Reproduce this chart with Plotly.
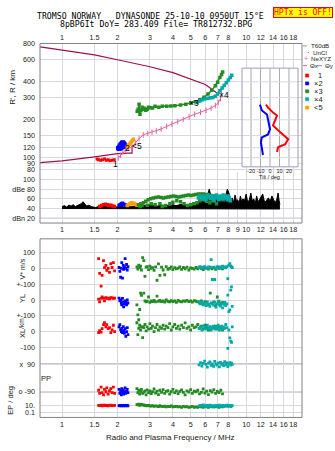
import numpy as np
import plotly.graph_objects as go

# ======================= DATA =======================
ticks_top = [1, 1.5, 2, 3, 4, 5, 6, 7, 8, 10, 12, 14, 16, 18]
ticks_amp = [1, 1.5, 2, 3, 4, 5, 6, 7, 8, 9, 10, 12, 14, 16, 18]
ticks_bot = [1, 1.5, 2, 3, 4, 5, 6, 7, 8, 10, 12, 14, 16, 18]
height_ticks = [80, 90, 100, 120, 150, 200, 300, 400, 600, 800]
amp_ticks = [20, 40, 60, 80, 100]
amp_tick_text = ["dBn 20", "40", "60", "dBe 80", "100"]
tilt_ticks = [-20, -10, 0, 10, 20]

# --- panel 1: profile curves (frequency MHz, height km)
prof_top_f = [0.76, 1.0, 1.5, 2.0, 3.0, 4.0, 5.15, 6.0, 7.0]
prof_top_h = [751, 711, 650, 594, 523, 470, 414, 378, 321]
prof_low_f = [0.76, 1.0, 1.5, 2.0, 2.28, 2.40, 2.40]
prof_low_h = [91, 94, 101, 107, 108, 108, 124]
nexyz_f = [2.02, 2.08, 2.14, 2.22, 2.30, 2.40, 2.50, 2.62, 2.76, 2.92, 3.08, 3.25, 3.45,
           3.70, 3.95, 4.25, 4.55, 4.90, 5.25, 5.65, 6.05, 6.45, 6.80, 7.05, 7.25, 7.35]
nexyz_h = [99, 104, 110, 115, 118, 121, 130, 141, 151, 155, 158, 162, 168,
           176, 184, 192, 200, 210, 220, 228, 236, 246, 258, 272, 292, 315]

# --- panel 1: echo virtual heights per mode
e1_f = [1.55, 1.58, 1.62, 1.66, 1.70, 1.74, 1.78, 1.82, 1.87, 1.92]
e1_h = [97, 96, 95, 96, 97, 95, 96, 94, 95, 96]
e2_f = [2.02, 2.04, 2.06, 2.08, 2.10, 2.12, 2.14, 2.16, 2.18, 2.20, 2.05, 2.09, 2.13, 2.17, 2.22]
e2_h = [118, 120, 123, 126, 128, 130, 131, 129, 127, 124, 117, 119, 121, 123, 122]
e5_f = [2.26, 2.29, 2.32, 2.35, 2.38, 2.41, 2.44]
e5_h = [121, 124, 127, 130, 133, 136, 139]
e3_f = [2.56, 2.59, 2.62, 2.65, 2.68, 2.72, 2.75, 2.80, 2.85, 2.90, 2.95, 3.0, 3.1, 3.2, 3.35, 3.5,
        3.7, 3.9, 4.1, 4.4, 4.7, 5.0, 5.3, 5.6, 5.9, 6.2, 6.5, 6.8, 7.0, 7.2, 7.35, 7.45]
e3_h = [232, 241, 264, 220, 235, 250, 241, 245, 236, 241, 250, 248, 246, 254, 250, 254,
        254, 255, 257, 260, 264, 270, 276, 287, 300, 318, 340, 370, 395, 430, 455, 475]
e4_f = [5.4, 5.6, 5.8, 6.0, 6.2, 6.4, 6.6, 6.8, 7.0, 7.2, 7.4, 7.6, 7.8, 8.0, 8.2, 8.35]
e4_h = [272, 280, 287, 292, 295, 297, 299, 305, 318, 338, 355, 372, 390, 410, 430, 448]

# --- inset: tilt (deg) vs height (km)
tiltx_deg = [-4.3, -2.1, 3.2, 7.4, 5.3, 3.2, 8.5, 13.8, 19.1, 16.0, 8.5, 7.4]
tiltx_h = [264, 250, 228, 216, 198, 180, 165, 151, 140, 128, 121, 111]
tilty_deg = [-10.6, -8.5, -3.2, -2.1, 0.0, -2.1, -8.5, -9.6, -8.5, -7.4]
tilty_h = [264, 237, 220, 198, 168, 153, 145, 133, 111, 105]

# --- panel 2: amplitudes (dB)
noise_f = [1.00, 1.03, 1.06, 1.09, 1.12, 1.15, 1.18, 1.21, 1.24, 1.27,
           1.30, 1.33, 1.36, 1.40, 1.44, 1.48, 1.52, 1.57, 1.62, 1.67,
           1.72, 1.78, 1.84, 1.90, 1.96, 2.02, 2.09, 2.16, 2.23, 2.30,
           2.38, 2.46, 2.55, 2.64, 2.74, 2.84, 2.95, 3.06, 3.18, 3.30,
           3.43, 3.56, 3.70, 3.85, 4.00, 4.15, 4.30, 4.50, 4.70, 4.90,
           5.10, 5.30, 5.50, 5.70, 5.90, 6.10, 6.30, 6.50, 6.70, 6.90,
           7.10, 7.30, 7.50, 7.70, 7.90,
           8.10, 8.25, 8.40, 8.55, 8.70, 8.85, 9.00, 9.15, 9.30, 9.45,
           9.60, 9.80, 10.0, 10.2, 10.4, 10.6, 10.8, 11.0, 11.2, 11.4,
           11.6, 11.8, 12.0, 12.3, 12.6, 12.9, 13.2, 13.5, 13.8, 14.1,
           14.4, 14.7, 14.9, 15.1, 15.25]
noise_db = [44, 46, 43, 47, 45, 48, 44, 46, 47, 50,
            54, 48, 45, 47, 44, 43, 42, 44, 43, 45,
            44, 43, 42, 44, 43, 44, 45, 43, 44, 46,
            44, 45, 46, 45, 47, 46, 48, 46, 47, 45,
            48, 46, 47, 45, 48, 46, 47, 49, 46, 48,
            50, 47, 52, 55, 58, 62, 80, 60, 58, 62,
            56, 60, 58, 64, 80,
            70, 55, 62, 52, 68, 56, 58, 50, 66, 54,
            60, 56, 70, 52, 58, 72, 55, 60, 50, 66,
            54, 58, 62, 70, 52, 58, 62, 55, 66, 58,
            52, 60, 72, 56, 48]
noise_floor_f = [1.00, 15.25]
noise_floor_db = [40, 39]
a1_f = [1.60, 1.64, 1.68, 1.72, 1.76, 1.80, 1.84, 1.88, 1.92]
a1_db = [44, 46, 48, 49, 48, 46, 47, 45, 44]
a2_f = [2.04, 2.07, 2.10, 2.13, 2.16, 2.19, 2.22]
a2_db = [46, 48, 50, 51, 49, 48, 46]
a5_f = [2.26, 2.30, 2.34, 2.38, 2.42, 2.46, 2.50, 2.55]
a5_db = [46, 48, 50, 52, 50, 51, 49, 47]
a3_f = [2.60, 2.68, 2.77, 2.85, 2.94, 3.03, 3.13, 3.23, 3.34, 3.45, 3.55, 3.66, 3.78, 3.90, 4.03,
        4.16, 4.29, 4.42, 4.56, 4.71, 4.86, 5.01, 5.17, 5.33, 5.50, 5.68, 5.86, 6.05, 6.24, 6.44,
        6.64, 6.85, 7.07, 7.30, 7.53]
a3_db = [48, 50, 52, 55, 58, 60, 62, 63, 64, 63, 62, 63, 64, 65, 66,
         65, 64, 65, 66, 67, 68, 67, 68, 69, 70, 70, 70, 69, 68, 67,
         66, 64, 62, 60, 58]
a3b_f = [2.65, 2.72, 2.90, 3.05, 3.20, 3.40, 3.50, 3.65, 3.85, 4.00, 4.20, 4.40, 4.60, 4.80, 5.00,
         5.20, 5.40, 5.60, 5.90, 6.10, 6.35, 6.60, 6.90]
a3b_db = [44, 46, 47, 50, 48, 50, 44, 46, 50, 53, 56, 54, 50, 46, 48,
          50, 52, 56, 58, 55, 52, 56, 50]
a4_f = [5.50, 5.60, 5.70, 5.80, 5.90, 6.00, 6.10, 6.20, 6.30, 6.40, 6.50, 6.60, 6.70, 6.80,
        6.90, 7.00, 7.10, 7.20, 7.30, 7.40, 7.50, 7.60, 7.70, 7.80, 7.90, 8.00, 8.10, 8.20]
a4_db = [62, 66, 64, 60, 66, 58, 62, 68, 64, 60, 66, 62, 56, 64,
         68, 62, 58, 66, 64, 60, 68, 62, 66, 64, 58, 66, 62, 56]

# --- panel 3: V* (m/s), YL, XL (m/s), PP (deg), EP (deg) per echo
m1_f = [1.58, 1.60, 1.63, 1.65, 1.68, 1.70, 1.73, 1.75, 1.78, 1.81, 1.84, 1.87, 1.90, 1.93]
m1_vs = [62, -31, -112, -44, 50, 5, 19, -12, 0, -25, 31, 6, 37, -15]
m1_yl = [6, -12, 10, 19, 12, -6, 15, 10, 12, 8, 15, 14, 10, 12]
m1_xl = [-6, 6, -4, 19, 44, 56, 30, 44, 19, 25, -6, 10, 40, 0]
m1_pp = [-80, -100, -60, -95, -110, -75, -90, -65, -105, -85, -70, -95, -60, -100]
m1_ep = [12, 10, 14, 9, 11, 13, 10, 12, 9, 11, 13, 10, 12, 11]

m2_f = [2.04, 2.06, 2.08, 2.10, 2.11, 2.13, 2.15, 2.16, 2.18, 2.20, 2.22, 2.24, 2.26, 2.28]
m2_vs = [6, -19, -56, 0, 37, -62, 19, -6, 10, 62, 0, 25, -10, 12]
m2_yl = [12, -6, 0, -19, -31, 10, -12, -44, -25, -6, -15, -31, 0, -20]
m2_xl = [30, 44, 12, 0, 20, -6, 31, 6, -12, 19, -31, 0, 25, -19]
m2_pp = [-75, -100, -85, -110, -70, -95, -80, -105, -90, -65, -100, -85, -75, -95]
m2_ep = [10, 9, 11, 10, 8, 12, 10, 9, 11, 10, 9, 10, 11, 8]

m3_f = [2.55, 2.58, 2.61, 2.64, 2.67, 2.70, 2.74, 2.78, 2.82, 2.86,
        2.90, 2.95, 3.00, 3.05, 3.10, 3.16, 3.22, 3.28, 3.34, 3.40,
        3.47, 3.54, 3.61, 3.68, 3.76, 3.84, 3.92, 4.00, 4.09, 4.18,
        4.27, 4.36, 4.46, 4.56, 4.66, 4.77, 4.88, 4.99, 5.10, 5.22,
        5.34, 5.46, 5.58, 5.71, 5.84, 5.97, 6.10, 6.24, 6.38, 6.52,
        6.67, 6.82, 6.97, 7.12, 7.28, 7.44]
m3_vs = [10, -5, 20, 5, 15, -10, 69, 50, -50, 8,
         12, -8, 15, 0, 5, -12, 10, -75, 29, -44,
         8, -10, -40, 12, -6, 0, 10, -8, 5, -3,
         2, 10, -6, 6, -2, 8, -10, 4, 0, -4,
         6, -2, 10, 0, -8, 4, 2, -5, 8, -3,
         5, -6, 3, 0, 7, -2]
m3_yl = [-31, -94, -125, -60, 44, 30, -170, 44, -5, -12,
         -8, 19, -15, -5, -10, -2, -12, 25, -8, -3,
         -10, -5, -14, 0, -8, -12, -4, -10, -6, -15,
         -3, -9, -12, -5, -8, -2, -10, -6, -14, -4,
         -8, -12, -20, -5, -25, -10, -15, -30, 44, -22,
         -12, -35, 19, -8, -25, -15]
m3_xl = [56, -19, 20, 40, 10, 30, -38, 25, 45, 5,
         30, 15, 50, 20, 35, 0, 25, 45, 10, 30,
         20, 40, 15, 35, 25, 50, 10, 30, 45, 20,
         35, 15, 40, 25, 55, 20, 30, 10, 40, 25,
         30, 45, 20, 35, 15, 40, 25, 10, 30, 20,
         25, 35, 15, 30, 20, 10]
m3_pp = [-70, -95, -80, -105, -88, -75, -100, -92, -85, -110,
         -78, -96, -84, -102, -90, -72, -98, -86, -108, -80,
         -94, -76, -100, -88, -82, -106, -90, -74, -96, -84,
         -102, -88, -78, -94, -110, -84, -92, -76, -100, -86,
         -90, -80, -104, -94, -72, -98, -86, -108, -82, -92,
         -76, -100, -88, -96, -80, -104]
m3_ep = [20, 15, 25, 12, 18, 22, 14, 16, 10, 12,
         9, 11, 8, 7, 10, 6, 8, 7, 5, 9,
         6, 5, 7, 4, 6, 5, 8, 4, 5, 6,
         4, 5, 3, 6, 4, 5, 3, 4, 6, 3,
         4, 3, 5, 4, 3, 6, 4, 3, 5, 4,
         5, 4, 6, 3, 5, 4]

m4_f = [5.55, 5.65, 5.75, 5.85, 5.95, 6.05, 6.15, 6.25, 6.35, 6.45,
        6.55, 6.65, 6.75, 6.85, 6.95, 7.05, 7.15, 7.25, 7.35, 7.45,
        7.55, 7.65, 7.75, 7.85, 7.95, 8.05, 8.15, 8.25, 8.32, 8.40]
m4_vs = [5, 10, 2, 8, 12, 4, 0, 10, 6, 56,
         -70, 8, -70, 2, 12, 5, 10, 0, 8, 14,
         6, 10, 4, 12, -65, 20, 31, 15, 10, 6]
m4_yl = [-10, -25, -15, -30, -20, -35, -12, -28, -40, -18,
         -22, -32, -15, -45, -25, -10, -30, -38, -20, -50,
         -28, -15, -35, -25, 31, -73, -62, 62, 83, -40]
m4_xl = [20, 30, 10, 35, 25, 15, 40, 20, 30, 10,
         25, 35, 15, 30, 20, 40, 10, 25, 35, 15,
         30, 20, 45, 25, -106, 10, -40, -60, -69, 30]
m4_pp = [85, 100, 78, 95, 110, 88, 70, 96, 104, 82,
         92, 76, 108, 90, 84, 98, 72, 102, 88, 94,
         80, 106, 86, 98, 74, 92, 100, 84, 96, 88]
m4_ep = [8, 12, 6, 15, 9, 5, 11, 7, 14, 6,
         10, 4, 8, 12, 5, 9, 13, 6, 8, 11,
         5, 10, 7, 14, 6, 9, 12, 5, 8, 10]

# ======================= STYLE / GEOMETRY =======================
W, H = 335, 451
GRID = "#d8d8e2"
FRAME = "#808080"
FONT = "Liberation Sans, Arial, sans-serif"
MONO = "DejaVu Sans Mono, monospace"
TXT = "#202020"
C_RED, C_BLUE, C_GREEN = "#ff0000", "#0000ff", "#228b22"
C_CYAN, C_ORANGE = "#00a8a8", "#ffa000"
C_MAROON, C_PINK = "#a0104a", "#e8609a"


def fx(p):
    return p / W


def fy(p):
    return 1 - p / H


FREQ_RANGE = [np.log10(0.759), np.log10(20.1)]
H_RANGE = [np.log10(77), np.log10(800)]
INSET_H = [84.6, 514]
INSET_T = [-29.5, 29.5]

# panel 3 composite axis: strips with offsets
VS_OFF, YL_OFF, XL_OFF = 0.0, -200.0, -400.0
PP_OFF, PP_S = -693.75, 87.5 / 90.0
EP_OFF, EP_S = -868.75, 21.875
P3_RANGE = [-943.75, 187.5]


def pp_y(v):
    return PP_OFF + np.asarray(v, float) * PP_S


def ep_y(v):
    return EP_OFF + (np.log10(np.asarray(v, float)) - 1) * EP_S


fig = go.Figure()


def sc(x, y, xa, ya, color, size=3, mode="markers", **kw):
    d = dict(x=x, y=y, xaxis=xa, yaxis=ya, mode=mode, showlegend=False, hoverinfo="skip")
    if "markers" in mode:
        d["marker"] = kw.pop("marker", dict(symbol="square", size=size, color=color, line=dict(width=0)))
    d.update(kw)
    fig.add_trace(go.Scatter(**d))


# ---------- panel 1 ----------
sc(prof_top_f, prof_top_h, "x", "y", C_MAROON, mode="lines", line=dict(color=C_MAROON, width=1.2))
sc(prof_low_f, prof_low_h, "x", "y", C_MAROON, mode="lines", line=dict(color=C_MAROON, width=1.2))
sc(nexyz_f, nexyz_h, "x", "y", C_PINK, mode="lines+markers", line=dict(color=C_PINK, width=1),
   marker=dict(symbol="line-ns-open", size=4, color=C_PINK, line=dict(width=1, color=C_PINK)))
sc(e1_f, e1_h, "x", "y", C_RED, size=3)
sc(e3_f, e3_h, "x", "y", C_GREEN, size=3.5, mode="lines+markers", line=dict(color=C_GREEN, width=1.5))
sc(e4_f, e4_h, "x", "y", C_CYAN, size=3.5, mode="lines+markers", line=dict(color=C_CYAN, width=2))
sc(e2_f, e2_h, "x", "y", C_BLUE, size=4.5)
sc(e5_f, e5_h, "x", "y", C_ORANGE, size=3.5, mode="lines+markers", line=dict(color=C_ORANGE, width=2))

# ---------- panel 2 ----------
sc(noise_floor_f, noise_floor_db, "x2", "y2", "black", mode="lines", line=dict(color="black", width=1))
sc(noise_f, noise_db, "x2", "y2", "black", mode="lines", line=dict(color="black", width=1),
   fill="tonexty", fillcolor="black")
sc(a1_f, a1_db, "x2", "y2", C_RED, size=3.5)
sc(a2_f, a2_db, "x2", "y2", C_BLUE, size=3.5)
sc(a5_f, a5_db, "x2", "y2", C_ORANGE, size=3.5)
sc(a3_f, a3_db, "x2", "y2", C_GREEN, size=3.5)
sc(a3b_f, a3b_db, "x2", "y2", C_GREEN, size=3.5)
sc(a4_f, a4_db, "x2", "y2", C_CYAN, size=3.5)

# ---------- panel 3 ----------
modes = [
    (C_RED, m1_f, m1_vs, m1_yl, m1_xl, m1_pp, m1_ep),
    (C_BLUE, m2_f, m2_vs, m2_yl, m2_xl, m2_pp, m2_ep),
    (C_GREEN, m3_f, m3_vs, m3_yl, m3_xl, m3_pp, m3_ep),
    (C_CYAN, m4_f, m4_vs, m4_yl, m4_xl, m4_pp, m4_ep),
]
for col, f, vs, yl, xl, pp, ep in modes:
    f = np.asarray(f, float)
    ys = np.concatenate([VS_OFF + np.asarray(vs, float), YL_OFF + np.asarray(yl, float),
                         XL_OFF + np.asarray(xl, float), pp_y(pp), ep_y(ep)])
    xs = np.concatenate([f] * 5)
    sc(xs, ys, "x3", "y3", col, size=2.8)

# ---------- inset (tilt) ----------
sc([INSET_T[0], INSET_T[1], INSET_T[1], INSET_T[0], INSET_T[0]],
   [INSET_H[0], INSET_H[0], INSET_H[1], INSET_H[1], INSET_H[0]], "x4", "y4", "white",
   mode="lines", line=dict(width=0, color="white"), fill="toself", fillcolor="white")
gx, gy = [], []
for t in tilt_ticks:
    gx += [t, t, None]
    gy += [INSET_H[0], INSET_H[1], None]
sc(gx, gy, "x4", "y4", "#a0a0a8", mode="lines", line=dict(color="#a8a8b0", width=1))
hx, hy = [], []
for hh in [100, 120, 150, 200, 300, 400]:
    hx += [INSET_T[0], INSET_T[1], None]
    hy += [hh, hh, None]
sc(hx, hy, "x4", "y4", GRID, mode="lines", line=dict(color=GRID, width=1))
sc(tiltx_deg, tiltx_h, "x4", "y4", C_RED, mode="lines", line=dict(color=C_RED, width=2))
sc(tilty_deg, tilty_h, "x4", "y4", C_BLUE, mode="lines", line=dict(color=C_BLUE, width=2))

# ======================= AXES =======================
tickfont = dict(family=FONT, size=7.2, color=TXT)


def xax(ticks, anchor, side):
    return dict(type="log", range=FREQ_RANGE, domain=[fx(40), fx(302)], anchor=anchor, side=side,
                tickvals=ticks, ticktext=[f"{t:g}" for t in ticks], showgrid=True, gridcolor=GRID,
                gridwidth=1, zeroline=False, showline=False, ticks="", tickfont=tickfont,
                tickangle=0, ticklabelstandoff=1, fixedrange=True)


vel_vals = [VS_OFF + 100, VS_OFF, VS_OFF - 100, YL_OFF, YL_OFF - 100, XL_OFF, XL_OFF - 100,
            PP_OFF + 90 * PP_S, PP_OFF - 90 * PP_S, EP_OFF, EP_OFF - 2 * EP_S]
vel_text = ["100", "0", "+-100", "0", "+-100", "0", "-100", "x  90", "o -90", "10.", "0.1"]

fig.update_layout(
    width=W, height=H, margin=dict(l=0, r=0, t=0, b=0), autosize=False,
    paper_bgcolor="white", plot_bgcolor="white", showlegend=False,
    xaxis=xax(ticks_top, "y", "top"),
    xaxis2=xax(ticks_amp, "y2", "bottom"),
    xaxis3=xax(ticks_bot, "y3", "bottom"),
    yaxis=dict(type="log", range=H_RANGE, domain=[fy(170), fy(40)], anchor="x",
               tickvals=height_ticks, ticktext=[str(v) for v in height_ticks],
               showgrid=True, gridcolor=GRID, zeroline=False, ticks="", tickfont=tickfont,
               ticklabelstandoff=4, fixedrange=True),
    yaxis2=dict(range=[10, 116], domain=[fy(222), fy(170)], anchor="x2",
                tickvals=amp_ticks, ticktext=amp_tick_text, showgrid=True, gridcolor=GRID,
                zeroline=False, ticks="", tickfont=tickfont, ticklabelstandoff=4, fixedrange=True),
    yaxis3=dict(range=P3_RANGE, domain=[fy(419), fy(238)], anchor="x3",
                tickvals=vel_vals, ticktext=vel_text, showgrid=True, gridcolor=GRID,
                zeroline=False, ticks="", tickfont=tickfont, ticklabelstandoff=4, fixedrange=True),
    xaxis4=dict(range=INSET_T, domain=[fx(242), fx(298)], anchor="y4", tickvals=tilt_ticks,
                ticktext=[str(t) for t in tilt_ticks], showgrid=False, zeroline=False, ticks="",
                tickfont=dict(family=FONT, size=5.5, color=TXT), tickangle=0,
                ticklabelstandoff=0, fixedrange=True),
    yaxis4=dict(type="log", range=[np.log10(INSET_H[0]), np.log10(INSET_H[1])],
                domain=[fy(165), fy(65)], anchor="x4", showgrid=False, zeroline=False,
                showticklabels=False, ticks="", fixedrange=True),
)

# ======================= SHAPES =======================
shapes = []


def rect(x0, y0, x1, y1, color=FRAME, width=1, fill=None):
    d = dict(type="rect", xref="paper", yref="paper", x0=fx(x0), x1=fx(x1), y0=fy(y1), y1=fy(y0),
             line=dict(color=color, width=width), layer="above")
    if fill:
        d["fillcolor"] = fill
    shapes.append(d)


def hline(x0, x1, y, color, width=1):
    shapes.append(dict(type="line", xref="paper", yref="paper", x0=fx(x0), x1=fx(x1),
                       y0=fy(y), y1=fy(y), line=dict(color=color, width=width), layer="above"))


rect(40, 40, 302, 222)
rect(40, 238, 302, 419)
rect(242, 65, 298, 165, color="#9c9cbc")
for yv in [PP_OFF + 90 * PP_S, PP_OFF - 90 * PP_S]:
    shapes.append(dict(type="line", xref="paper", yref="y3", x0=fx(40), x1=fx(302), y0=yv, y1=yv,
                       line=dict(color="#606060", width=1), layer="below"))
shapes.append(dict(type="line", xref="paper", yref="y2", x0=fx(40), x1=fx(302), y0=20, y1=20,
                   line=dict(color="#a8a8e0", width=1), layer="below"))

# legend marks
hline(303, 307, 42.5, "#9a9a9a", 1)
hline(303, 307, 62.5, C_PINK, 1)
hline(317, 322, 62.5, "#8888cc", 1)
for yy, col in [(72.5, C_RED), (80.5, C_BLUE), (88.5, C_GREEN), (96.5, C_CYAN), (105, C_ORANGE)]:
    rect(305.5, yy - 1.6, 308.8, yy + 1.6, color=col, width=0.5, fill=col)
fig.update_layout(shapes=shapes)

# ======================= ANNOTATIONS =======================
ann = []


def txt(x, y, s, size=8, color=TXT, family=FONT, xa="center", angle=0, **kw):
    ann.append(dict(x=fx(x), y=fy(y), xref="paper", yref="paper", text=s, showarrow=False,
                    font=dict(size=size, color=color, family=family), xanchor=xa,
                    yanchor="middle", textangle=angle, **kw))


NB = "\u00a0"
txt(150, 12, f"TROMSO NORWAY{NB*3}DYNASONDE 25-10-10 0950UT 15°E", size=8.2, color="black", family=MONO)
txt(156, 20.5, "8pBP6It DoY= 283.409 File= TR812732.BPG", size=8.2, color="black", family=MONO)
txt(302.5, 8.5, "HPTx is OFF!", size=8, color="#ff0000", family=MONO,
    bgcolor="#ffff00", bordercolor="#ff0000", borderwidth=1, borderpad=0)

txt(13, 85, "R', R / km", size=8, angle=-90)
txt(22, 269, "V* m/s", size=7, angle=-90)
txt(22, 299, "YL", size=7.5, angle=-90)
txt(22, 324, "/km", size=6.5, angle=-90)
txt(22, 334.5, "XL", size=7.5, angle=-90)
txt(46, 379.5, "PP", size=7.5)
txt(11, 402, "EP / deg", size=7.5, angle=-90)
txt(170, 439, "Radio and Plasma Frequency / MHz", size=8)
txt(269, 175, "Tilt / deg", size=5.5)

# legend texts
LS = 6.2
txt(308.5, 42.5, "T60dB", size=LS, xa="left")
txt(308, 49.3, "·", size=8, color="black", xa="center")
txt(311, 49.3, "UnCl", size=LS, xa="left")
txt(305.5, 55.3, "+", size=7, color=C_PINK)
txt(308.5, 55.3, "NeXYZ", size=LS, xa="left")
txt(307.5, 62.5, "Θx", size=LS, xa="left")
txt(323, 62.5, "Θy", size=LS, xa="left")
txt(320, 72.5, "1", size=7.5)
txt(318, 80.5, "×2", size=7.5)
txt(318, 88.5, "×3", size=7.5)
txt(318, 96.5, "×4", size=7.5)
txt(318, 105, "<5", size=7.5)

# labels inside panel 1 (log axes -> log10 positions)
for s, f, h in [("1", 1.94, 88), ("2", 2.28, 119), ("<5", 2.56, 123), ("×3", 5.22, 268), ("×4", 7.6, 310)]:
    ann.append(dict(x=np.log10(f), y=np.log10(h), xref="x", yref="y", text=s, showarrow=False,
                    font=dict(size=8.5, color="black", family=FONT), xanchor="center", yanchor="middle"))

fig.update_layout(annotations=ann)
fig.write_html("out.html")
